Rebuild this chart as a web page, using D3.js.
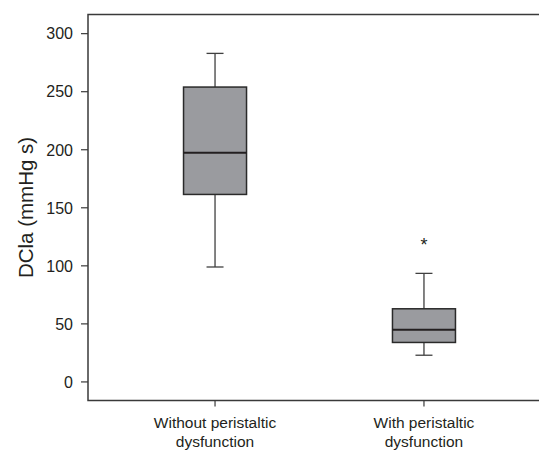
<!DOCTYPE html>
<html>
<head>
<meta charset="utf-8">
<script src="https://cdn.jsdelivr.net/npm/d3@7"></script>
<style>
  body { margin: 0; background: #fff; }
  svg text { font-family: "Liberation Sans", Arial, sans-serif; fill: #231f20; }
</style>
</head>
<body>
<svg width="539" height="450"></svg>
<script>
// groups and their box stats (whisker low, q1, median, q3, whisker high)
const groups = ["Without peristaltic dysfunction", "With peristaltic dysfunction"];
const groupLines = [["Without peristaltic", "dysfunction"], ["With peristaltic", "dysfunction"]];
const whiskerLow = [99, 23];
const q1 = [161.5, 34];
const median = [197.5, 45];
const q3 = [254, 63];
const whiskerHigh = [283, 93.5];
const markers = [null, 121];
const yTicks = [0, 50, 100, 150, 200, 250, 300];

const svg = d3.select("svg");
const plotLeft = 88, plotTop = 14.5, plotBottom = 400.5, plotRight = 539;

const y = d3.scaleLinear().domain([-16, 316.5]).range([plotBottom, plotTop]);
const x = d3.scalePoint().domain(groups).range([plotLeft, 551]).padding(0.608);

const boxW = 63, capW = 17;

// frame (left + top + bottom)
svg.append("path")
  .attr("d", `M${plotRight},${plotTop}H${plotLeft}V${plotBottom}H${plotRight}`)
  .attr("fill", "none").attr("stroke", "#3a3a3a").attr("stroke-width", 1.5);

// y ticks
const yAxis = svg.append("g");
yAxis.selectAll("line").data(yTicks).enter().append("line")
  .attr("x1", plotLeft - 7).attr("x2", plotLeft)
  .attr("y1", d => y(d)).attr("y2", d => y(d))
  .attr("stroke", "#3a3a3a").attr("stroke-width", 1.2);
yAxis.selectAll("text").data(yTicks).enter().append("text")
  .attr("x", plotLeft - 15).attr("y", d => y(d))
  .attr("dy", "0.36em").attr("text-anchor", "end")
  .attr("font-size", 16).text(d => d);

// y label
svg.append("text")
  .attr("transform", `translate(33,${(plotTop + plotBottom) / 2}) rotate(-90)`)
  .attr("text-anchor", "middle").attr("font-size", 20.5)
  .text("DCla (mmHg s)");

// x ticks + labels
const xAxis = svg.append("g");
xAxis.selectAll("line").data(groups).enter().append("line")
  .attr("x1", d => x(d)).attr("x2", d => x(d))
  .attr("y1", plotBottom).attr("y2", plotBottom + 6)
  .attr("stroke", "#3a3a3a").attr("stroke-width", 1.2);
xAxis.selectAll("text").data(groups).enter().append("text")
  .attr("x", d => x(d)).attr("y", 428)
  .attr("text-anchor", "middle").attr("font-size", 15.5)
  .each(function(d, i) {
    d3.select(this).selectAll("tspan").data(groupLines[i]).enter().append("tspan")
      .attr("x", x(d)).attr("dy", (t, j) => j === 0 ? 0 : 18.5).text(t => t);
  });

// boxes
const boxes = svg.selectAll("g.box").data(groups).enter().append("g").attr("class", "box");

boxes.append("line")
  .attr("x1", d => x(d)).attr("x2", d => x(d))
  .attr("y1", (d, i) => y(whiskerLow[i])).attr("y2", (d, i) => y(q1[i]))
  .attr("stroke", "#404040").attr("stroke-width", 1.3);
boxes.append("line")
  .attr("x1", d => x(d)).attr("x2", d => x(d))
  .attr("y1", (d, i) => y(q3[i])).attr("y2", (d, i) => y(whiskerHigh[i]))
  .attr("stroke", "#404040").attr("stroke-width", 1.3);
boxes.append("line")
  .attr("x1", d => x(d) - capW / 2).attr("x2", d => x(d) + capW / 2)
  .attr("y1", (d, i) => y(whiskerLow[i])).attr("y2", (d, i) => y(whiskerLow[i]))
  .attr("stroke", "#404040").attr("stroke-width", 1.3);
boxes.append("line")
  .attr("x1", d => x(d) - capW / 2).attr("x2", d => x(d) + capW / 2)
  .attr("y1", (d, i) => y(whiskerHigh[i])).attr("y2", (d, i) => y(whiskerHigh[i]))
  .attr("stroke", "#404040").attr("stroke-width", 1.3);

boxes.append("rect")
  .attr("x", d => x(d) - boxW / 2).attr("width", boxW)
  .attr("y", (d, i) => y(q3[i]))
  .attr("height", (d, i) => y(q1[i]) - y(q3[i]))
  .attr("fill", "#9a9b9f").attr("stroke", "#2a2a2a").attr("stroke-width", 1.5);

boxes.append("line")
  .attr("x1", d => x(d) - boxW / 2).attr("x2", d => x(d) + boxW / 2)
  .attr("y1", (d, i) => y(median[i])).attr("y2", (d, i) => y(median[i]))
  .attr("stroke", "#231f20").attr("stroke-width", 2);

// outlier / significance markers
boxes.filter((d, i) => markers[i] != null).append("text")
  .attr("x", d => x(d)).attr("y", d => y(markers[groups.indexOf(d)]))
  .attr("dy", "0.55em").attr("text-anchor", "middle").attr("font-size", 18)
  .text("*");
</script>
</body>
</html>
